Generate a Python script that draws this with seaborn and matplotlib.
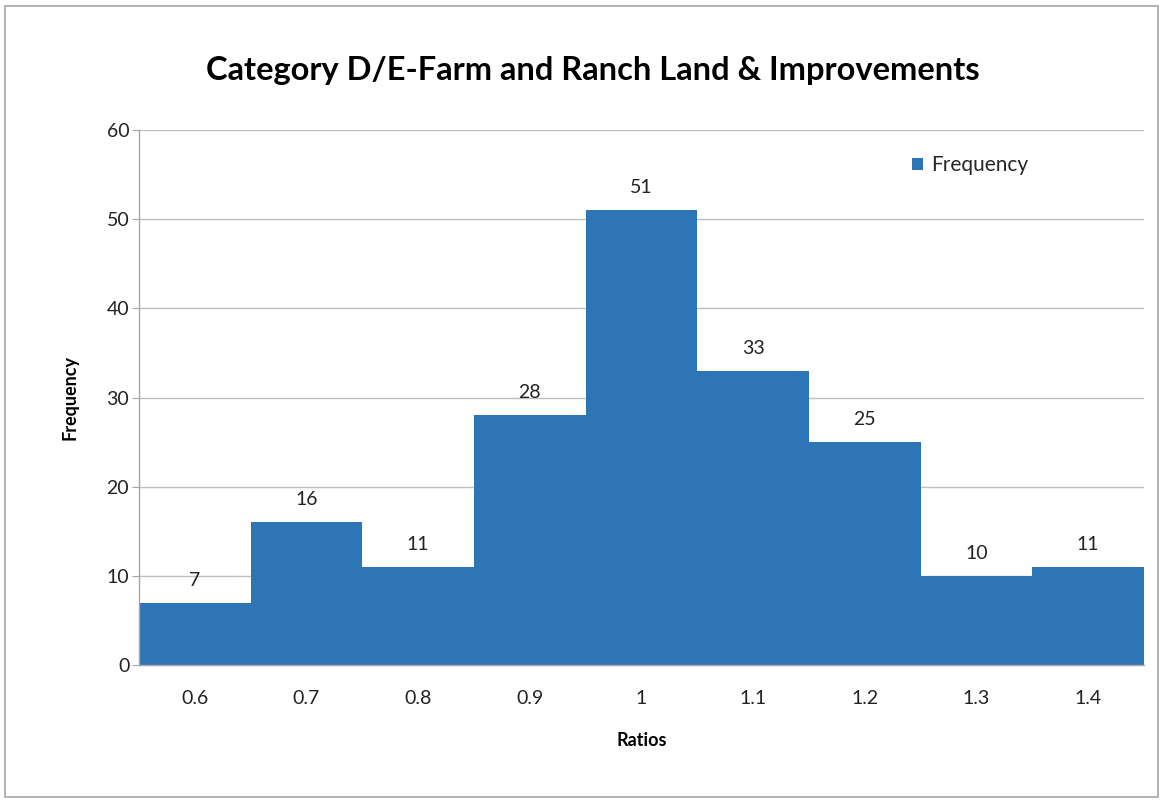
import numpy as np
import pandas as pd
import seaborn as sns
import matplotlib.pyplot as plt
from matplotlib.patches import Rectangle

# Data
ratios = ["0.6", "0.7", "0.8", "0.9", "1", "1.1", "1.2", "1.3", "1.4"]
frequency = [7, 16, 11, 28, 51, 33, 25, 10, 11]

df = pd.DataFrame({"Ratios": ratios, "Frequency": frequency})

sns.set_style("white")
plt.rcParams['font.family'] = ['Lato', 'DejaVu Sans']

bar_color = "#2E75B6"
grid_color = "#BFBFBF"
text_color = "#222222"

fig = plt.figure(figsize=(11.63, 8), dpi=100)
ax = fig.add_axes([0.1195, 0.16875, 0.8642, 0.66875])

sns.barplot(data=df, x="Ratios", y="Frequency", color=bar_color, width=1.0,
            saturation=1, linewidth=0, label="Frequency", ax=ax)

ax.bar_label(ax.containers[0], padding=10, fontsize=14, color=text_color)

# axes styling (Excel look)
ax.set_ylim(0, 60)
ax.set_yticks(np.arange(0, 61, 10))
ax.set_xlim(-0.5, len(ratios) - 0.5)
ax.yaxis.grid(True, color=grid_color, linewidth=1)
ax.set_axisbelow(True)
for side in ["top", "right"]:
    ax.spines[side].set_visible(False)
for side in ["left", "bottom"]:
    ax.spines[side].set_color("#A6A6A6")
    ax.spines[side].set_linewidth(1)

ax.tick_params(axis="x", which="major", length=0, pad=18, labelsize=14, labelcolor=text_color)
ax.set_xticks(np.arange(-0.5, len(ratios), 1.0), minor=True)
ax.tick_params(axis="x", which="minor", length=5, color="#A6A6A6", direction="out")
ax.tick_params(axis="y", length=5, color="#A6A6A6", labelsize=14, labelcolor=text_color,
               left=True, pad=2)

ax.set_xlabel("Ratios", fontsize=13, fontweight="bold", labelpad=18, color="black")
ax.set_ylabel("Frequency", fontsize=13, fontweight="bold", labelpad=20, color="black")
ax.set_title("Category D/E-Farm and Ranch Land & Improvements", fontsize=23.5,
             fontweight="bold", pad=36, x=0.452, color="black")

leg = ax.legend(loc="upper left", bbox_to_anchor=(0.75, 0.988), frameon=False,
                fontsize=15, handlelength=0.55, handleheight=0.55, handletextpad=0.4)

# outer chart border
fig.add_artist(Rectangle((0.004, 0.004), 0.992, 0.989, transform=fig.transFigure,
                         fill=False, edgecolor="#A6A6A6", linewidth=1.2))

fig.savefig("out.png", dpi=100)
